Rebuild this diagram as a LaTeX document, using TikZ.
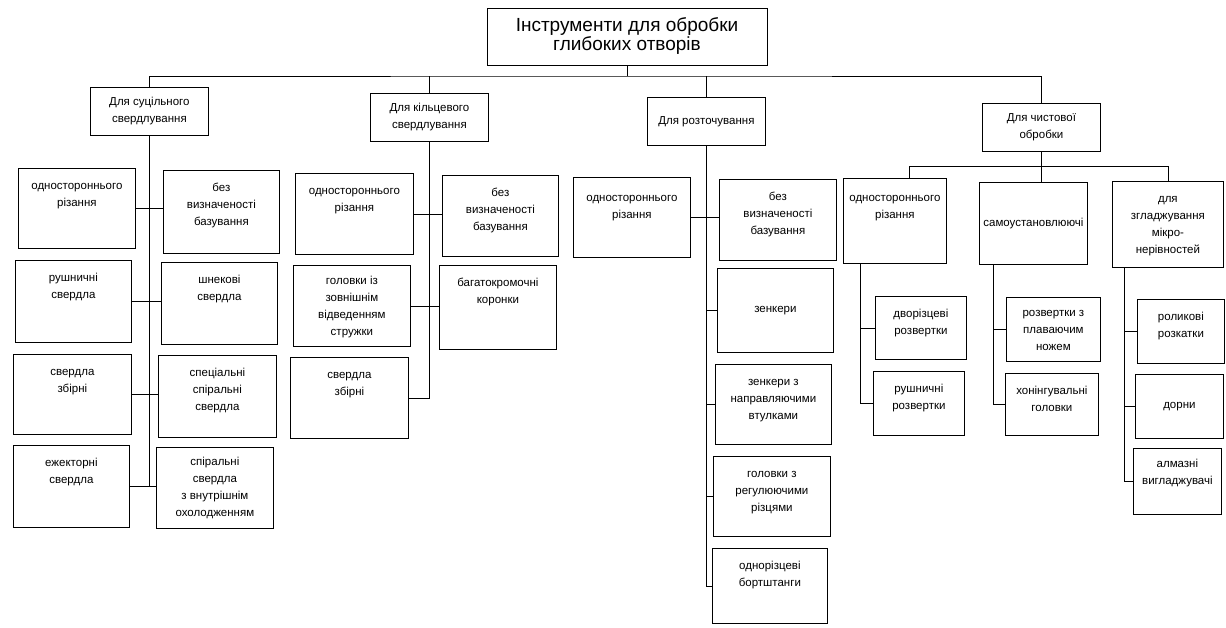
\documentclass[tikz,border=0pt]{standalone}
\usepackage{fontspec}
\setmainfont{Liberation Sans}
\usepackage{tikz}

\newcommand{\cell}[4][21pt]{\parbox[c][#3][t]{#2}{\centering\rule{0pt}{#1}#4\par}}
\newcommand{\midcell}[3]{\parbox[c][#2][c]{#1}{\centering #3\par}}

\begin{document}
\begin{tikzpicture}[x=1pt, y=-1pt, line width=0.8pt,
		every node/.style={font=\fontsize{11.5}{17}\selectfont},
		box/.style={draw, inner sep=0pt, anchor=north west},
		group/.style={draw, align=center, anchor=north west, inner sep=0pt, minimum width=118pt, minimum height=48pt}]
		
		\useasboundingbox (0,0) rectangle (1226,627);
		
		\node[draw, align=center, minimum width=280pt, minimum height=57pt, font=\fontsize{19}{19}\selectfont] (root) at (627,36.5) {Інструменти для обробки\\глибоких отворів};
		
		\node[group] (s1) at (90,87) {Для суцільного\\свердлування};
		\node[group] (k1) at (370,93) {Для кільцевого\\свердлування};
		\node[group] (r1) at (647,97) {Для розточування};
		\node[group] (fin) at (982,103) {Для чистової\\обробки};
		
		\coordinate (bus) at (627,76);
		\draw (root.south) -- (bus);
		\draw (s1.north) |- (bus) -| (fin.north);
		\draw (k1.north) -- (k1.north |- bus);
		\draw (r1.north) -- (r1.north |- bus);
		
		
		\node[box] (s1a) at (18,168) {\cell{117pt}{80pt}{одностороннього\\різання}};
		\node[box] (s1b) at (163,170) {\cell{116pt}{83pt}{без\\визначеності\\базування}};
		\node[box] (s1c) at (15,260) {\cell{116pt}{82pt}{рушничні\\свердла}};
		\node[box] (s1d) at (161,262) {\cell{116pt}{82pt}{шнекові\\свердла}};
		\node[box] (s1e) at (13,354) {\cell{118pt}{80pt}{свердла\\збірні}};
		\node[box] (s1f) at (158,355) {\cell{118pt}{82pt}{спеціальні\\спіральні\\свердла}};
		\node[box] (s1g) at (13,445) {\cell{116pt}{82pt}{ежекторні\\свердла}};
		\node[box] (s1h) at (156,447) {\cell[18pt]{117pt}{81pt}{спіральні\\свердла\\з внутрішнім\\охолодженням}};
		
		\draw (s1.south) -- (s1.south |- s1g.east);
		\draw (s1a.east) -- (s1a.east -| s1b.west);
		\draw (s1c.east) -- (s1c.east -| s1d.west);
		\draw (s1e.east) -- (s1e.east -| s1f.west);
		\draw (s1g.east) -- (s1g.east -| s1h.west);
		
		
		\node[box] (k1a) at (295,173) {\cell{118pt}{81pt}{одностороннього\\різання}};
		\node[box] (k1b) at (442,175) {\cell{116pt}{81pt}{без\\визначеності\\базування}};
		\node[box] (k1c) at (293,265) {\cell[19pt]{117pt}{81pt}{головки із\\зовнішнім\\відведенням\\стружки}};
		\node[box] (k1d) at (439,265) {\cell{117pt}{84pt}{багатокромочні\\коронки}};
		\node[box] (k1e) at (290,357) {\cell{118pt}{81pt}{свердла\\збірні}};
		
		\draw (k1.south) |- (k1e.east);
		\draw (k1a.east) -- (k1a.east -| k1b.west);
		\draw (k1c.east) -- (k1c.east -| k1d.west);
		
		
		\node[box] (r1a) at (573,177) {\cell[24pt]{117pt}{80pt}{одностороннього\\різання}};
		\node[box] (r1b) at (719,179) {\cell{117pt}{81pt}{без\\визначеності\\базування}};
		\node[box] (r1c) at (717,268) {\midcell{116pt}{84pt}{зенкери}};
		\node[box] (r1d) at (715,364) {\cell{116pt}{80pt}{зенкери з\\направляючими\\втулками}};
		\node[box] (r1e) at (713,456) {\cell{117pt}{80pt}{головки з\\регулюючими\\різцями}};
		\node[box] (r1f) at (712,548) {\cell{115pt}{75pt}{однорізцеві\\бортштанги}};
		
		\draw (r1.south) |- (r1f.west);
		\draw (r1a.east) -- (r1a.east -| r1b.west);
		\draw (r1c.west) -- (r1c.west -| r1.south);
		\draw (r1d.west) -- (r1d.west -| r1.south);
		\draw (r1e.west) -- (r1e.west -| r1.south);
		
		
		\node[box] (f1) at (843,178) {\cell[23pt]{103pt}{85pt}{одностороннього\\різання}};
		\node[box] (f2) at (979,182) {\midcell{108pt}{82pt}{самоустановлюючі}};
		\node[box] (f3) at (1112,181) {\cell{111pt}{86pt}{для\\згладжування\\мікро-\\нерівностей}};
		
		\coordinate (fbus) at ([yshift=-15pt]fin.south);
		\draw (fin.south) -- (fin.south |- f2.north);
		\draw ([xshift=14pt]f1.north) |- (fbus) -| (f3.north);
		
		\node[box] (f1a) at (875,296) {\cell{91pt}{63pt}{дворізцеві\\розвертки}};
		\node[box] (f1b) at (873,371) {\cell{91pt}{64pt}{рушничні\\розвертки}};
		\node[box] (f2a) at (1006,297) {\cell[19pt]{94pt}{64pt}{розвертки з\\плаваючим\\ножем}};
		\node[box] (f2b) at (1005,373) {\cell{93pt}{62pt}{хонінгувальні\\головки}};
		\node[box] (f3a) at (1137,299) {\cell{87pt}{64pt}{роликові\\розкатки}};
		\node[box] (f3b) at (1135,374) {\midcell{88pt}{64pt}{дорни}};
		\node[box] (f3c) at (1133,448) {\cell[19pt]{88pt}{66pt}{алмазні\\вигладжувачі}};
		
		\coordinate (f1t) at ([xshift=17pt]f1.south west);
		\coordinate (f2t) at ([xshift=14pt]f2.south west);
		\coordinate (f3t) at ([xshift=12pt]f3.south west);
		
		\draw (f1t) |- (f1b.west);
		\draw (f1a.west) -- (f1a.west -| f1t);
		\draw (f2t) |- (f2b.west);
		\draw (f2a.west) -- (f2a.west -| f2t);
		\draw (f3t) |- (f3c.west);
		\draw (f3a.west) -- (f3a.west -| f3t);
		\draw (f3b.west) -- (f3b.west -| f3t);
	\end{tikzpicture}
\end{document}
